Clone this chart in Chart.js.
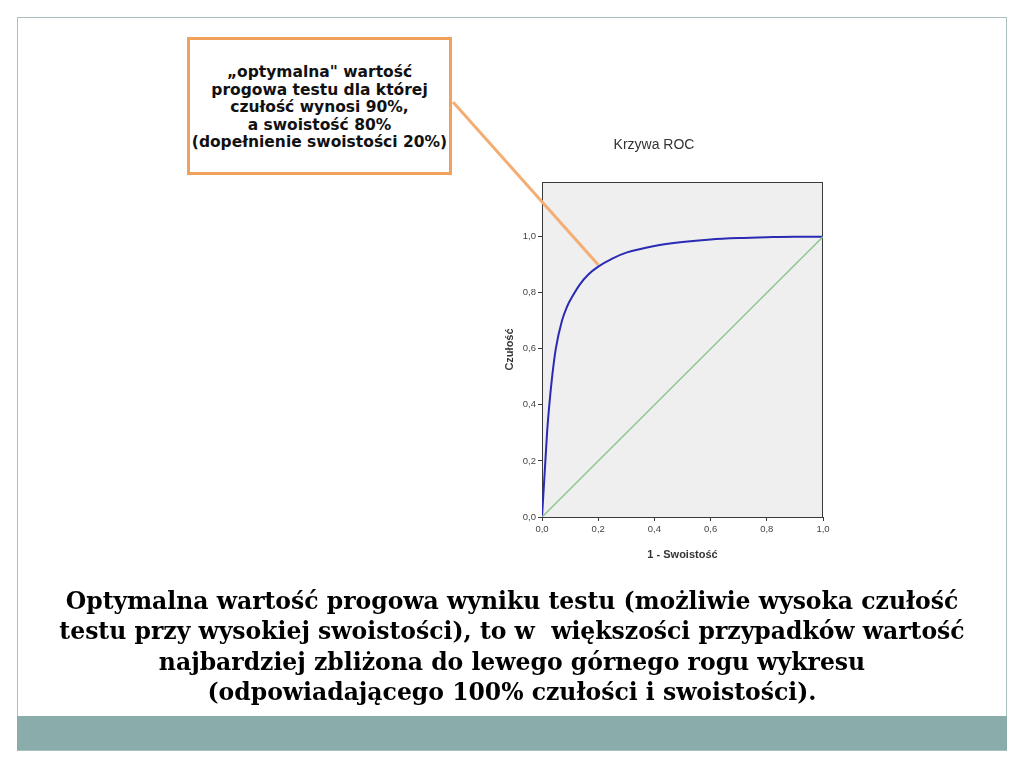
<!DOCTYPE html>
<html lang="pl">
<head>
<meta charset="utf-8">
<title>Krzywa ROC</title>
<script src="https://cdn.jsdelivr.net/npm/chart.js@4"></script>
<style>
  html, body { margin: 0; padding: 0; background: #fff; }
  body { width: 1024px; height: 768px; position: relative; overflow: hidden; }
  .ramka {
    position: absolute; left: 17px; top: 17px; width: 988px; height: 732px;
    border: 1px solid #a9c1c0;
  }
  .pasek {
    position: absolute; left: 17px; top: 716px; width: 990px; height: 34px;
    background: #8aacab;
  }
  #wykres { position: absolute; left: 0; top: 0; }
  .dymek {
    position: absolute; left: 187px; top: 37px; width: 265px; height: 138px;
    box-sizing: border-box; border: 3px solid #f0a15a; background: #fff;
    padding-top: 24px; text-align: center;
    font: bold 15.5px "DejaVu Sans", sans-serif; line-height: 17.5px; color: #111;
    white-space: nowrap;
  }
  .opis {
    position: absolute; left: 17px; top: 586px; width: 990px; text-align: center;
    font: bold 23.5px "DejaVu Serif", serif; line-height: 30.4px; color: #000;
    white-space: nowrap;
  }
</style>
</head>
<body>
<div class="ramka"></div>
<div class="pasek"></div>
<canvas id="wykres" width="1024" height="768"></canvas>
<div class="dymek">„optymalna" wartość<br>progowa testu dla której<br>czułość wynosi 90%,<br>a swoistość 80%<br>(dopełnienie swoistości 20%)</div>
<div class="opis">Optymalna wartość progowa wyniku testu (możliwie wysoka czułość<br>testu przy wysokiej swoistości), to w&nbsp; większości przypadków wartość<br>najbardziej zbliżona do lewego górnego rogu wykresu<br>(odpowiadającego 100% czułości i swoistości).</div>
<script>
const jedenMinusSwoistosc = [0, 0.006, 0.012, 0.018, 0.026, 0.036, 0.049, 0.071, 0.089, 0.11, 0.135, 0.165, 0.2, 0.25, 0.3, 0.4, 0.5, 0.6, 0.7, 0.8, 0.9, 1.0];
const czulosc = [0, 0.1, 0.2, 0.3, 0.4, 0.5, 0.6, 0.7, 0.75, 0.79, 0.83, 0.865, 0.893, 0.922, 0.943, 0.967, 0.981, 0.99, 0.995, 0.998, 1.0, 1.0];

// linia odniesienia (przekątna)
const przekatnaX = [0, 1];
const przekatnaY = [0, 1];

const wartosciOsi = [0, 0.2, 0.4, 0.6, 0.8, 1.0];
const punktOptymalny = { x: 0.2, y: 0.9 };

const punkty = (xs, ys) => xs.map((x, i) => ({ x, y: ys[i] }));
const formatuj = v => v.toFixed(1).replace('.', ',');

const KOLOR_OSI = '#3a3a3a';
const KOLOR_TEKSTU = '#444';

// tło obszaru wykresu + ramka, tytuł i linia od dymka
const dekoracje = {
  id: 'dekoracje',
  beforeDatasetsDraw(chart) {
    const { ctx, chartArea: a } = chart;
    ctx.save();
    ctx.fillStyle = '#efefef';
    ctx.fillRect(a.left, a.top, a.right - a.left, a.bottom - a.top);
    ctx.strokeStyle = KOLOR_OSI;
    ctx.lineWidth = 1;
    ctx.strokeRect(a.left + 0.5, a.top + 0.5, a.right - a.left - 1, a.bottom - a.top);
    ctx.restore();
  },
  afterDraw(chart) {
    const { ctx } = chart;
    ctx.save();
    ctx.fillStyle = '#333';
    ctx.font = '14px "Liberation Sans", Arial, sans-serif';
    ctx.textAlign = 'center';
    ctx.textBaseline = 'middle';
    ctx.fillText('Krzywa ROC', 654, 145);

    const px = chart.scales.x.getPixelForValue(punktOptymalny.x);
    const py = chart.scales.y.getPixelForValue(punktOptymalny.y);
    ctx.strokeStyle = '#f4ad72';
    ctx.lineWidth = 3;
    ctx.beginPath();
    ctx.moveTo(453, 102);
    ctx.lineTo(px, py);
    ctx.stroke();
    ctx.restore();
  }
};

const wspolneOsi = {
  type: 'linear',
  grid: { drawOnChartArea: false, drawTicks: true, tickLength: 4, color: KOLOR_OSI },
  border: { display: true, color: KOLOR_OSI },
  ticks: {
    color: KOLOR_TEKSTU,
    font: { family: '"Liberation Sans", Arial, sans-serif', size: 9.5 },
    callback: v => formatuj(v)
  }
};

new Chart(document.getElementById('wykres'), {
  type: 'scatter',
  data: {
    datasets: [
      {
        label: 'Linia odniesienia',
        data: punkty(przekatnaX, przekatnaY),
        showLine: true,
        borderColor: '#8cc78c',
        borderWidth: 1.5,
        pointRadius: 0
      },
      {
        label: 'Krzywa ROC',
        data: punkty(jedenMinusSwoistosc, czulosc),
        showLine: true,
        borderColor: '#2a2ab4',
        borderWidth: 2,
        pointRadius: 0,
        cubicInterpolationMode: 'monotone'
      }
    ]
  },
  options: {
    responsive: false,
    animation: false,
    layout: { padding: { left: 490, right: 201, top: 182, bottom: 201 } },
    scales: {
      x: {
        ...wspolneOsi,
        min: 0, max: 1,
        afterBuildTicks: s => { s.ticks = wartosciOsi.map(v => ({ value: v })); },
        afterFit: s => { s.height = 50; },
        ticks: { ...wspolneOsi.ticks, padding: 3, maxRotation: 0 },
        title: {
          display: true, text: '1 - Swoistość', color: '#333',
          font: { family: '"Liberation Sans", Arial, sans-serif', size: 11, weight: 'bold' },
          padding: { top: 0, bottom: 5 }
        }
      },
      y: {
        ...wspolneOsi,
        min: 0, max: 1.195,
        afterBuildTicks: s => { s.ticks = wartosciOsi.map(v => ({ value: v })); },
        afterFit: s => { s.width = 52; },
        ticks: { ...wspolneOsi.ticks, padding: 2 },
        title: {
          display: true, text: 'Czułość', color: '#333',
          font: { family: '"Liberation Sans", Arial, sans-serif', size: 11, weight: 'bold' },
          padding: { top: 13, bottom: 0 }
        }
      }
    },
    plugins: {
      legend: { display: false },
      tooltip: { enabled: false }
    }
  },
  plugins: [dekoracje]
});
</script>
</body>
</html>
